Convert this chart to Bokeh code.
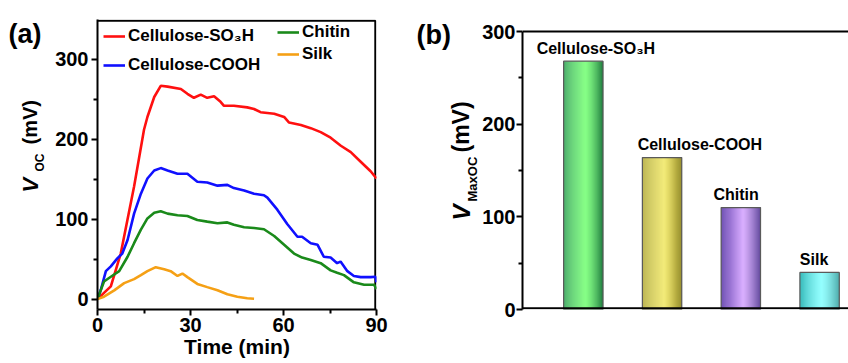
import numpy as np
from bokeh.plotting import figure
from bokeh.layouts import row
from bokeh.models import (Legend, LegendItem, FixedTicker, Range1d,
                          ColumnDataSource, Span)
from bokeh.embed import file_html
from bokeh.resources import INLINE
from bokeh.core.properties import value

# ---------------- data: open-circuit voltage vs. time (mV) ----------------
t_so3h = [0, 4.3, 7.5, 11.8, 15, 16.1, 18.3, 20.4, 22.6, 26.9, 29, 31.1, 33.3, 35.4,
          37.6, 39.7, 40.8, 44, 48.3, 50.5, 52.6, 57, 60.2, 61.8, 65.6, 68.8, 72,
          75.2, 78.5, 81.7, 84.9, 88.1, 90]
v_so3h = [0, 16, 57, 141, 212, 228, 253, 267, 266, 263, 257, 252, 256, 252,
          254, 247, 242, 242, 240, 238, 234, 232, 228, 221, 218, 214, 209,
          202, 192, 184, 172, 160, 151]

t_cooh = [0, 1.1, 2.7, 4.3, 6.4, 8, 9.7, 11.8, 14, 16.1, 18.3, 20.4, 22.6, 25.8, 29,
          32.2, 35.4, 38.7, 41.9, 44, 47.3, 50.5, 53.7, 54.8, 58, 61.2, 64.5, 66,
          68.8, 71, 73, 75.2, 77.3, 78.4, 80.6, 82.7, 84.9, 88.1, 89.7, 90]
v_cooh = [0, 12, 35, 41, 51, 57, 74, 107, 132, 151, 161, 164, 161, 157, 157,
          147, 146, 142, 143, 139, 136, 132, 130, 127, 112, 94, 78, 78,
          70, 68, 53, 52, 45, 47, 35, 29, 27.5, 27.5, 28, 21]

t_chitin = [0, 2.1, 4.3, 7, 9.7, 11.8, 14, 16.1, 18.3, 20.4, 22.6, 25.8, 29, 32.2,
            35.4, 38.7, 41.9, 44, 47.3, 50.5, 53.7, 57, 60.2, 63.4, 66, 68.8, 72,
            75.2, 77.3, 79.5, 82.7, 86, 89.2, 90]
v_chitin = [0, 22, 28, 35, 53, 70, 87, 101, 108, 110, 107, 105, 104, 99,
            97, 95, 96, 93, 90, 89, 87.5, 79, 68, 57, 52, 49, 45,
            36, 33, 30, 21, 18, 18, 12.5]

t_silk = [0, 2.1, 5.4, 8.6, 11.8, 14, 16.1, 18.8, 21.5, 23.6, 25.8, 27.4, 29, 32.2,
          35.4, 38.7, 41.9, 45.1, 48.3, 50.5]
v_silk = [0, 3, 11, 20, 25, 30, 35, 40, 37.5, 35, 29, 32, 27.5, 19,
          15, 11, 6, 3, 1, 0.5]

time_ticks = [0, 30, 60, 90]
time_minor = [15, 45, 75]
volt_ticks = [0, 100, 200, 300]
volt_minor = [50, 150, 250]

# ---------------- data: maximum open-circuit voltage (mV) ----------------
materials = ["Cellulose-SO\u2083H", "Cellulose-COOH", "Chitin", "Silk"]
v_max = [268, 164, 110, 40]

FONT = "Liberation Sans"
H = 363
TOP, BOTTOM = 19, 54          # shared frame borders of the row
FRAME_H = H - TOP - BOTTOM
T_RANGE = (0, 90)
V_RANGE_A = (-13, 350)
FRAME_W_A = 279
B_X_RANGE = (0.228, 4.367)


def style_axis(ax, ticks, minor, standoff=3):
    ax.ticker = FixedTicker(ticks=ticks, minor_ticks=minor)
    ax.axis_line_width = 2
    ax.axis_line_color = "black"
    ax.major_tick_line_width = 2
    ax.minor_tick_line_width = 2
    ax.major_tick_in = 0
    ax.major_tick_out = 6
    ax.minor_tick_in = 0
    ax.minor_tick_out = 4
    ax.major_label_text_font = FONT
    ax.major_label_text_font_style = "bold"
    ax.major_label_text_font_size = "20px"
    ax.major_label_text_color = "black"
    ax.major_label_standoff = standoff


def text_strip(width, x0):
    """Narrow axis-free figure whose frame is used for free-standing titles."""
    f = figure(width=width, height=H, output_backend="svg", toolbar_location=None,
               x_range=Range1d(x0, x0 + width), y_range=Range1d(-(H - BOTTOM), -TOP),
               x_axis_type=None, y_axis_type=None,
               min_border_left=0, min_border_right=0,
               min_border_top=TOP, min_border_bottom=BOTTOM)
    f.outline_line_color = None
    f.xgrid.visible = False
    f.ygrid.visible = False
    return f


def put_text(f, x, y, txt, size, style="bold", angle=0.0, align="left"):
    f.text(x=[x], y=[-y], text=[txt], angle=angle, text_align=align,
           text_baseline="middle", text_font=value(FONT), text_font_style=style,
           text_font_size=size, text_color="black")


# ============================ panel (a) ============================
lab_a = text_strip(45, 0)
put_text(lab_a, 8, 33, "(a)", "27px")
put_text(lab_a, 30, 192, "V", "22px", "bold italic", np.pi / 2)
put_text(lab_a, 39, 171, "OC", "12px", "bold", np.pi / 2)
put_text(lab_a, 29, 144, "(mV)", "20px", "bold", np.pi / 2)

pa = figure(width=365, height=H, output_backend="svg", toolbar_location=None,
            x_range=Range1d(*T_RANGE), y_range=Range1d(*V_RANGE_A),
            min_border_left=52, min_border_right=34, min_border_top=TOP,
            min_border_bottom=BOTTOM)
pa.xgrid.visible = False
pa.ygrid.visible = False
pa.outline_line_color = None
style_axis(pa.xaxis[0], time_ticks, time_minor, standoff=2)
style_axis(pa.yaxis[0], volt_ticks, volt_minor)
pa.xaxis.axis_label = "Time (min)"
pa.xaxis.axis_label_text_font = FONT
pa.xaxis.axis_label_text_font_style = "bold"
pa.xaxis.axis_label_text_font_size = "21px"
pa.xaxis.axis_label_text_color = "black"
pa.xaxis.axis_label_standoff = 0

# closing box: an unfilled rectangle whose 2 px edges sit just inside the frame
px_v = (V_RANGE_A[1] - V_RANGE_A[0]) / FRAME_H
px_t = (T_RANGE[1] - T_RANGE[0]) / FRAME_W_A
pa.quad(left=[T_RANGE[0] - 5 * px_t], right=[T_RANGE[1] - 1.2 * px_t],
        bottom=[V_RANGE_A[0] - 5 * px_v], top=[V_RANGE_A[1] - 1.2 * px_v],
        fill_color=None, line_color="black", line_width=2)

series = [
    ("Cellulose-SO\u2083H", t_so3h, v_so3h, "#ff1010"),
    ("Cellulose-COOH", t_cooh, v_cooh, "#1010ff"),
    ("Chitin", t_chitin, v_chitin, "#1a8a1a"),
    ("Silk", t_silk, v_silk, "#f5a015"),
]
renderers = {}
for name, t, v, col in series:
    renderers[name] = pa.line(t, v, line_color=col, line_width=2.6)


def make_legend(names, loc, spacing):
    return Legend(items=[LegendItem(label=n, renderers=[renderers[n]]) for n in names],
                  location=loc, orientation="vertical", padding=0, margin=0,
                  spacing=spacing, glyph_width=22, glyph_height=20, label_height=20,
                  label_standoff=3, border_line_color=None, background_fill_alpha=0,
                  label_text_font=FONT, label_text_font_style="bold",
                  label_text_font_size="17px", label_text_color="black")


pa.add_layout(make_legend(["Cellulose-SO\u2083H", "Cellulose-COOH"], (6, 234), 9))
pa.add_layout(make_legend(["Chitin", "Silk"], (180, 245), 2))

# ============================ panel (b) ============================
lab_b = text_strip(69, 410)
put_text(lab_b, 416, 34, "(b)", "27px")
put_text(lab_b, 461, 220, "V", "24px", "bold italic", np.pi / 2)
put_text(lab_b, 472, 201, "MaxOC", "13px", "bold", np.pi / 2)
put_text(lab_b, 460, 152, "(mV)", "23px", "bold", np.pi / 2)

bar_x = np.arange(1, len(materials) + 1)
bar_w = 0.5
y_top_b = 300 * FRAME_H / (H - BOTTOM - 31)   # 300 mV sits 12 px below frame top

pb = figure(width=369, height=H, output_backend="svg", toolbar_location=None,
            x_range=Range1d(*B_X_RANGE), y_range=Range1d(0, y_top_b),
            min_border_left=42, min_border_right=0, min_border_top=TOP,
            min_border_bottom=BOTTOM)
pb.xgrid.visible = False
pb.ygrid.visible = False
pb.outline_line_color = None
style_axis(pb.yaxis[0], volt_ticks, volt_minor, standoff=1)
pb.yaxis[0].bounds = (0, 300)
pb.xaxis.visible = False
pb.add_layout(Span(location=300, dimension="width", line_color="black", line_width=2))

# shaded bar fills: dark edges, bright band just right of centre
shades = [
    ("#2a9a52", "#70ff70", "#1d7a3e"),
    ("#aaa22a", "#f2ea74", "#8f8620"),
    ("#5a3aa8", "#d8acff", "#45268c"),
    ("#38b8b8", "#80ffff", "#2c9c9c"),
]


def hex_rgb(h):
    return np.array([int(h[i:i + 2], 16) for i in (1, 3, 5)], dtype=float)


def shade_at(s, left, mid, right, peak=0.55):
    if s <= peak:
        a = (s / peak) ** 0.8
        c = hex_rgb(left) * (1 - a) + hex_rgb(mid) * a
    else:
        a = ((s - peak) / (1 - peak)) ** 1.3
        c = hex_rgb(mid) * (1 - a) + hex_rgb(right) * a
    return "#%02x%02x%02x" % tuple(int(round(x)) for x in c)


n_strip = 40
lefts, rights, tops, fills = [], [], [], []
for xc, h, (cl, cm, cr) in zip(bar_x, v_max, shades):
    edges = np.linspace(xc - bar_w / 2, xc + bar_w / 2, n_strip + 1)
    for i in range(n_strip):
        s = (i + 0.5) / n_strip
        lefts.append(edges[i])
        rights.append(edges[i + 1] + 0.002)
        tops.append(h)
        fills.append(shade_at(s, cl, cm, cr))
pb.quad(left=lefts, right=rights, bottom=0, top=tops, fill_color=fills, line_color=None)
pb.vbar(x=bar_x, width=bar_w, top=v_max, bottom=0, fill_color=None,
        line_color="#5a5a5a", line_width=1.2)

# baseline rule along the bottom of the frame
px_b = y_top_b / FRAME_H
pb.add_layout(Span(location=1.2 * px_b, dimension="width", line_color="black",
                   line_width=2))

# names above the bars
label_dx = [0.16, 0.48, -0.06, -0.07]
lab_src = ColumnDataSource(dict(x=bar_x + np.array(label_dx), y=v_max, text=materials))
pb.text(x="x", y="y", text="text", source=lab_src, y_offset=-13,
        text_align="center", text_baseline="middle", text_font=value(FONT),
        text_font_style="bold", text_font_size="16px", text_color="black")

layout = row(lab_a, pa, lab_b, pb)
open("out.html", "w").write(file_html(layout, INLINE))
